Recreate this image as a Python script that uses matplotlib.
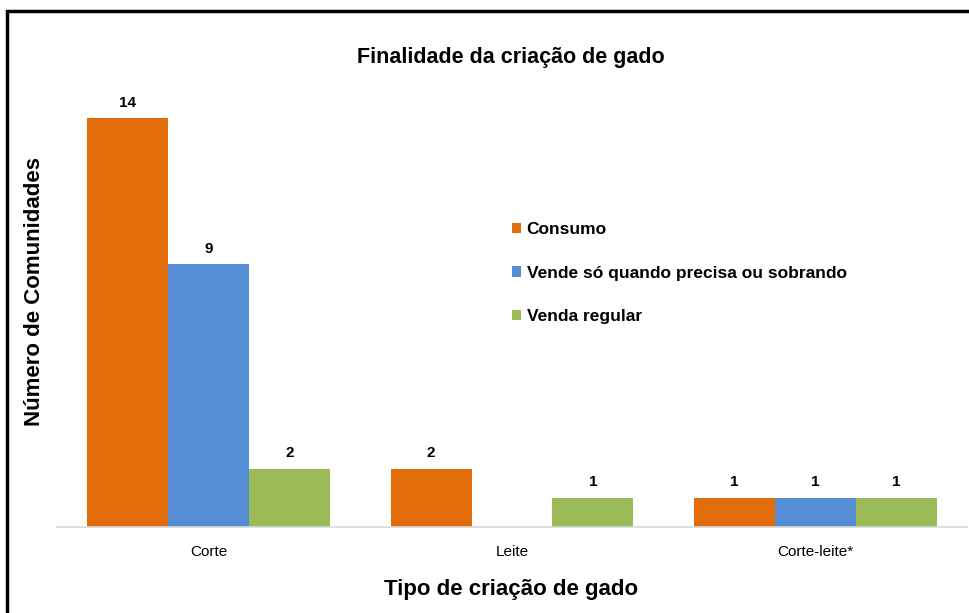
import numpy as np
import matplotlib.pyplot as plt
from matplotlib.patches import Rectangle

plt.rcParams['font.family'] = ['Liberation Sans', 'DejaVu Sans']

# data
categories = ['Corte', 'Leite', 'Corte-leite*']
series = ['Consumo', 'Vende só quando precisa ou sobrando', 'Venda regular']
consumo = [14, 2, 1]
vende_quando = [9, 0, 1]
venda_regular = [2, 1, 1]
colors = ['#E36C0A', '#558ED5', '#9BBB59']

dpi = 100
fig = plt.figure(figsize=(969/dpi, 613/dpi), dpi=dpi)
ax = fig.add_axes([57/969, 1 - 527/613, 910/969, (527 - 118)/613])

x = np.arange(len(categories))
w = 0.267
for i, (vals, name, c) in enumerate(zip([consumo, vende_quando, venda_regular], series, colors)):
    bars = ax.bar(x + (i - 1)*w, vals, w, color=c, label=name)
    labels = [str(v) if v else '' for v in vals]
    ax.bar_label(bars, labels=labels, padding=6, fontsize=11, fontweight='bold')

ax.set_xlim(-0.5, 2.5)
ax.set_ylim(0, 14)
ax.set_yticks([])
for s in ['top', 'right', 'left']:
    ax.spines[s].set_visible(False)
ax.spines['bottom'].set_color('#D9D9D9')
ax.spines['bottom'].set_linewidth(1.2)
ax.set_xticks(x)
ax.set_xticklabels(categories, fontsize=11)
ax.tick_params(axis='x', length=0, pad=13)

fig.text(511/969, 1 - 57/613, 'Finalidade da criação de gado', ha='center', va='center',
         fontsize=15.5, fontweight='bold')
fig.text(35/969, 1 - 292/613, 'Número de Comunidades', ha='center', va='center',
         rotation=90, fontsize=16, fontweight='bold')
fig.text(511/969, 1 - 589/613, 'Tipo de criação de gado', ha='center', va='center',
         fontsize=16, fontweight='bold')

fig.legend(loc='upper left', bbox_to_anchor=(505/969, 1 - 215/613), frameon=False,
           prop={'size': 12.5, 'weight': 'bold'}, handlelength=0.55, handleheight=0.55,
           handletextpad=0.3, labelspacing=1.65, borderaxespad=0)

# frame around the chart, cut off at right and bottom
fig.patches.append(Rectangle((7/969, -0.1), 1.1, 1.1 - 11/613, transform=fig.transFigure,
                             fill=False, edgecolor='black', linewidth=2.5))

plt.savefig('out.png', dpi=dpi)
